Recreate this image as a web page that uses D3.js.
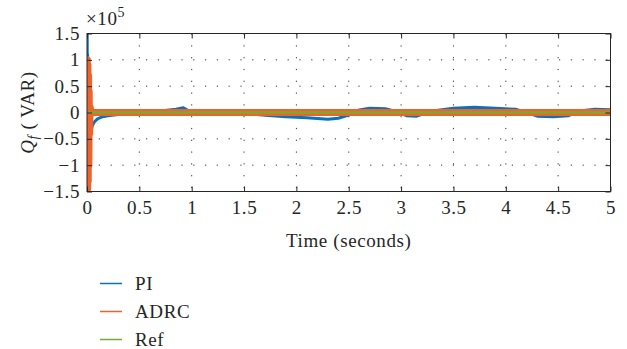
<!DOCTYPE html>
<html lang="en">
<head>
  <meta charset="utf-8">
  <title>Qf response</title>
  <script src="https://d3js.org/d3.v7.min.js"></script>
  <style>
    body { margin: 0; background: #fff; }
    text { font-family: "Liberation Serif", "DejaVu Serif", serif; fill: #262626; letter-spacing: 0.6px; }
    .axis path { display: none; }
    .axis line { stroke: #262626; stroke-width: 1; }
    .axis text { font-size: 19px; }
    .grid line { stroke: #333; stroke-width: 1; stroke-dasharray: 1.2,10.6; }
  </style>
</head>
<body>
<script>
// tick values and labels
var timeTicks = [0, 0.5, 1, 1.5, 2, 2.5, 3, 3.5, 4, 4.5, 5];
var timeLabels = ["0", "0.5", "1", "1.5", "2", "2.5", "3", "3.5", "4", "4.5", "5"];
var qTicks = [-1.5, -1, -0.5, 0, 0.5, 1, 1.5];
var qLabels = ["\u22121.5", "\u22121", "\u22120.5", "0", "0.5", "1", "1.5"];

// series (values in units of 1e5 VAR)
var piTime = [0, 0.002, 0.004, 0.006, 0.008, 0.011, 0.014, 0.018, 0.022, 0.03, 0.04, 0.05, 0.07, 0.1, 0.15, 0.2, 0.3, 0.38, 0.5, 0.7, 0.85, 0.92, 1.0, 1.1, 1.3, 1.5, 1.7, 1.9, 2.1, 2.3, 2.4, 2.5, 2.6, 2.7, 2.85, 2.95, 3.05, 3.15, 3.3, 3.5, 3.7, 3.9, 4.1, 4.2, 4.3, 4.45, 4.6, 4.7, 4.85, 5.0];
var piValues = [0, 1.5, -1.45, 1.1, -1.0, 0.6, -0.5, 0.2, -0.2, -0.3, -0.35, -0.25, -0.18, -0.12, -0.08, -0.06, -0.04, -0.01, 0.02, 0.03, 0.06, 0.09, 0.0, -0.04, -0.02, -0.02, -0.05, -0.08, -0.1, -0.13, -0.11, -0.05, 0.05, 0.08, 0.07, 0.02, -0.06, -0.07, 0.03, 0.08, 0.1, 0.08, 0.06, 0.0, -0.07, -0.08, -0.06, 0.03, 0.06, 0.05];

var adrcTime = [0, 0.003, 0.006, 0.009, 0.012, 0.015, 0.018, 0.021, 0.025, 0.03, 0.04, 5.0];
var adrcValues = [0, 1.0, -1.45, 0.9, -1.3, 0.7, -1.0, 0.4, -0.4, 0.1, 0, 0];

var refTime = [0, 5];
var refValues = [0, 0];

var series = [
  {name: "PI", t: piTime, v: piValues, color: "#0a72bd", width: 3},
  {name: "ADRC", t: adrcTime, v: adrcValues, color: "#f0622a", width: 7},
  {name: "Ref", t: refTime, v: refValues, color: "#77ac30", width: 2.5}
];

var width = 627, height = 349;
var margin = {top: 33.5, right: 16.5, bottom: 157.5, left: 87};

var svg = d3.select("body").append("svg")
  .attr("width", width)
  .attr("height", height);

var xScale = d3.scaleLinear().domain([0, 5]).range([margin.left, width - margin.right]);
var yScale = d3.scaleLinear().domain([-1.5, 1.5]).range([height - margin.bottom, margin.top]);

var x0 = xScale.range()[0], x1 = xScale.range()[1];
var y0 = yScale.range()[1], y1 = yScale.range()[0];

svg.append("defs").append("clipPath").attr("id", "plot")
  .append("rect").attr("x", x0).attr("y", y0).attr("width", x1 - x0).attr("height", y1 - y0);

// grid
var grid = svg.append("g").attr("class", "grid");
grid.selectAll(".gx").data(timeTicks.slice(1, -1)).enter().append("line")
  .attr("x1", function(d) { return xScale(d); }).attr("x2", function(d) { return xScale(d); })
  .attr("y1", y0).attr("y2", y1);
grid.selectAll(".gy").data(qTicks.slice(1, -1)).enter().append("line")
  .attr("y1", function(d) { return yScale(d); }).attr("y2", function(d) { return yScale(d); })
  .attr("x1", x0).attr("x2", x1);

// lines
var line = d3.line()
  .x(function(d) { return xScale(d[0]); })
  .y(function(d) { return yScale(d[1]); });

svg.append("g").attr("clip-path", "url(#plot)")
  .selectAll("path").data(series).enter().append("path")
  .attr("d", function(s) { return line(d3.zip(s.t, s.v)); })
  .attr("fill", "none")
  .attr("stroke", function(s) { return s.color; })
  .attr("stroke-width", function(s) { return s.width; })
  .attr("stroke-linejoin", "round");

// axes (ticks inward, box on all sides)
var xAxis = d3.axisBottom(xScale).tickValues(timeTicks)
  .tickFormat(function(d, i) { return timeLabels[i]; })
  .tickSizeInner(-5).tickSizeOuter(0).tickPadding(9);
svg.append("g").attr("class", "axis").attr("transform", "translate(0," + y1 + ")").call(xAxis);

var yAxis = d3.axisLeft(yScale).tickValues(qTicks)
  .tickFormat(function(d, i) { return qLabels[i]; })
  .tickSizeInner(-5).tickSizeOuter(0).tickPadding(7);
svg.append("g").attr("class", "axis").attr("transform", "translate(" + x0 + ",0)").call(yAxis);

svg.append("g").attr("class", "axis").attr("transform", "translate(0," + y0 + ")")
  .call(d3.axisTop(xScale).tickValues(timeTicks).tickFormat("").tickSizeInner(-5).tickSizeOuter(0));
svg.append("g").attr("class", "axis").attr("transform", "translate(" + x1 + ",0)")
  .call(d3.axisRight(yScale).tickValues(qTicks).tickFormat("").tickSizeInner(-5).tickSizeOuter(0));

svg.append("rect")
  .attr("x", x0).attr("y", y0).attr("width", x1 - x0).attr("height", y1 - y0)
  .attr("fill", "none").attr("stroke", "#262626").attr("stroke-width", 1);

// exponent label
var expo = svg.append("text").attr("x", x0 - 1).attr("y", 25).style("font-size", "19px");
expo.append("tspan").text("\u00d710");
expo.append("tspan").attr("dy", -8).style("font-size", "14px").text("5");

// axis titles
svg.append("text")
  .attr("x", (x0 + x1) / 2).attr("y", 247)
  .attr("text-anchor", "middle").style("font-size", "19px")
  .text("Time (seconds)");

var ylab = svg.append("text")
  .attr("transform", "translate(34," + ((y0 + y1) / 2) + ") rotate(-90)")
  .attr("text-anchor", "middle").style("font-size", "19px");
ylab.append("tspan").style("font-style", "italic").text("Q");
ylab.append("tspan").attr("dy", 4).style("font-style", "italic").style("font-size", "14px").text("f");
ylab.append("tspan").attr("dy", -4).text(" ( VAR)");

// legend
var legend = svg.selectAll(".legend").data(series).enter().append("g")
  .attr("transform", function(d, i) { return "translate(100," + (283.5 + i * 28) + ")"; });
legend.append("line").attr("x1", 0).attr("x2", 22).attr("y1", 0).attr("y2", 0)
  .attr("stroke", function(d) { return d.color; }).attr("stroke-width", 1.5);
legend.append("text").attr("x", 35).attr("y", 6.5).style("font-size", "19px")
  .text(function(d) { return d.name; });
</script>
</body>
</html>
